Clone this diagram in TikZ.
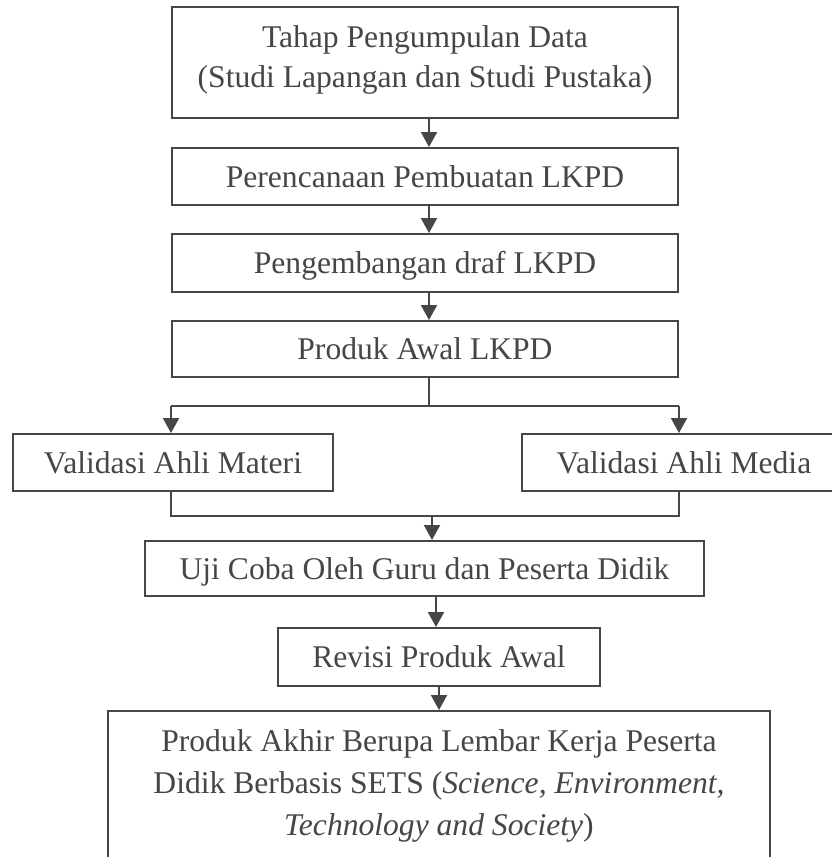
\documentclass[tikz,border=0pt]{standalone}
\usepackage{fontspec}
\setmainfont{Liberation Serif}
\usetikzlibrary{arrows.meta}
\definecolor{ink}{RGB}{70,70,70}
\newcommand\boxfont{\fontsize{31.6pt}{40.5pt}\selectfont}
\newcommand\boxfontb{\fontsize{31.6pt}{42pt}\selectfont}
\begin{document}
\begin{tikzpicture}[x=1pt,y=-1pt,
  box/.style={draw=ink, line width=2pt, rectangle, inner sep=0pt, text=ink,
    font=\boxfont, text height=21pt, text depth=0pt},
  txt/.style={inner sep=0pt, text=ink, align=center, anchor=north},
  arr/.style={draw=ink, line width=2pt, -{Triangle[width=16pt,length=15pt]}},
  ln/.style={draw=ink, line width=2pt}]
\clip (0,0) rectangle (832,857);
\fill[white] (0,0) rectangle (832,857);
% boxes
\node[box, minimum width=506pt, minimum height=111pt] (tahap) at (425,62.5) {};
\node[txt, font=\boxfont] (tahapText) at (425,25) {Tahap Pengumpulan Data\\(Studi Lapangan dan Studi Pustaka)};
\node[box, minimum width=506pt, minimum height=57pt] (peren) at (425,176.5) {Perencanaan Pembuatan LKPD};
\node[box, minimum width=506pt, minimum height=58pt] (pengem) at (425,263) {Pengembangan draf LKPD};
\node[box, minimum width=506pt, minimum height=56pt] (awal) at (425,349) {Produk Awal LKPD};
\node[box, minimum width=320pt, minimum height=57pt] (materi) at (173,462.5) {Validasi Ahli Materi};
\node[box, minimum width=324pt, minimum height=57pt] (media) at (684,462.5) {Validasi Ahli Media};
\node[box, minimum width=559pt, minimum height=55pt] (uji) at (424.5,568.5) {Uji Coba Oleh Guru dan Peserta Didik};
\node[box, minimum width=322pt, minimum height=58pt] (revisi) at (439,657) {Revisi Produk Awal};
\node[box, minimum width=662pt, minimum height=189pt] (akhir) at (439,805.5) {};
\node[txt, font=\boxfontb] (akhirText) at (439,729) {Produk Akhir Berupa Lembar Kerja Peserta\\Didik Berbasis SETS (\textit{Science, Environment,}\\\textit{Technology and Society})};
% connectors
\coordinate (s1) at (429,0);
\draw[arr] (s1 |- tahap.south) -- (s1 |- peren.north);
\draw[arr] (s1 |- peren.south) -- (s1 |- pengem.north);
\draw[arr] (s1 |- pengem.south) -- (s1 |- awal.north);
\coordinate (br) at (429,406);
\draw[ln] (s1 |- awal.south) -- (br);
\draw[ln] (awal.west |- br) -- (awal.east |- br);
\draw[arr] (awal.west |- br) -- (awal.west |- materi.north);
\draw[arr] (awal.east |- br) -- (awal.east |- media.north);
\coordinate (mg) at (432,516);
\draw[ln] (awal.west |- materi.south) -- (awal.west |- mg) -- (awal.east |- mg) -- (awal.east |- media.south);
\draw[arr] (mg) -- (mg |- uji.north);
\coordinate (s2) at (436,0);
\draw[arr] (s2 |- uji.south) -- (s2 |- revisi.north);
\draw[arr] (revisi.south) -- (revisi.south |- akhir.north);
\end{tikzpicture}
\end{document}
